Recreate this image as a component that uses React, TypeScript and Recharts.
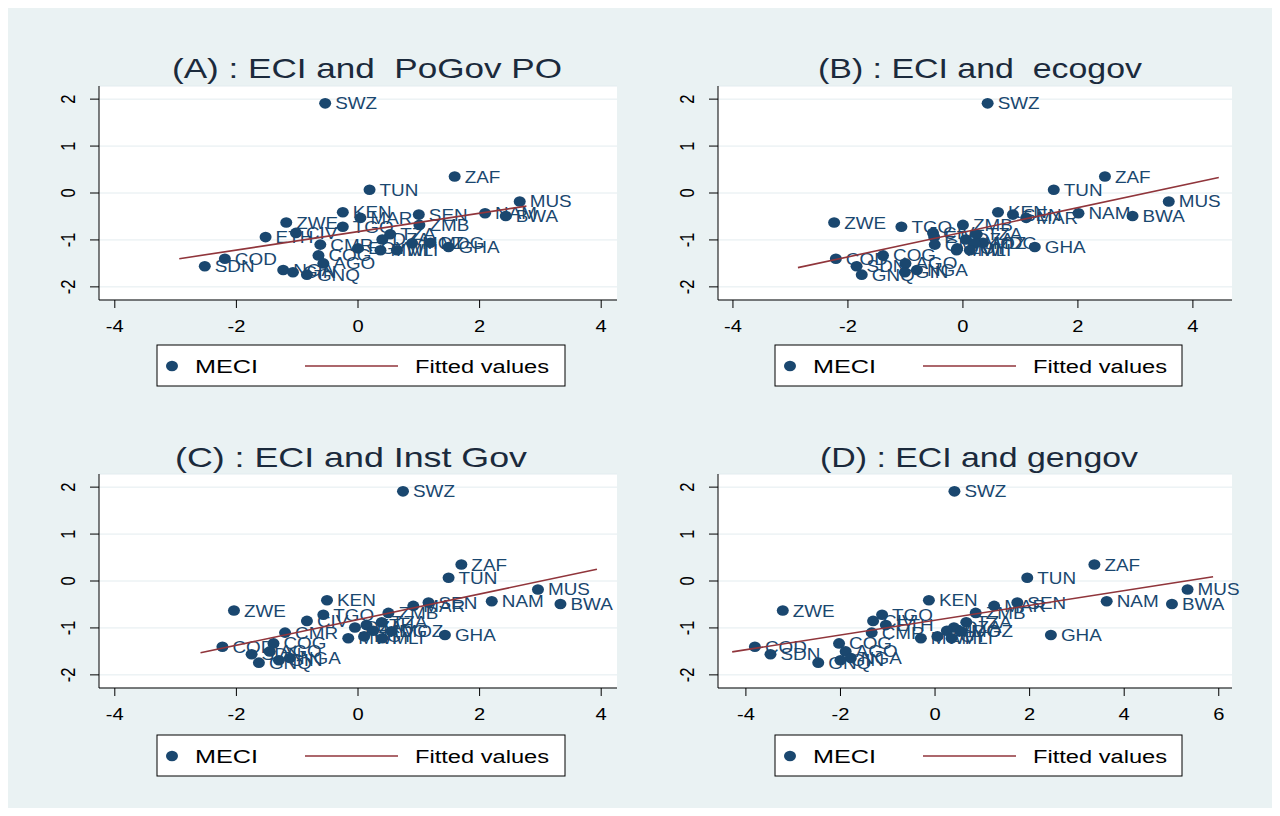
import React from 'react';
import { ScatterChart, Scatter, XAxis, YAxis, CartesianGrid } from 'recharts';

const countries = ['SWZ','ZAF','TUN','MUS','KEN','NAM','SEN','BWA','MAR','ZWE','ZMB','TGO','CIV','TZA','ETH','DZA','MDG','MOZ','CMR','GHA','EGY','MWI','MLI','COG','COD','AGO','SDN','NGA','GIN','GNQ'];
const meci = [1.91,0.35,0.07,-0.18,-0.41,-0.43,-0.46,-0.49,-0.53,-0.63,-0.68,-0.72,-0.85,-0.88,-0.94,-0.99,-1.06,-1.07,-1.10,-1.15,-1.18,-1.22,-1.22,-1.33,-1.40,-1.50,-1.56,-1.64,-1.69,-1.74];
const pogov = [-0.54,1.59,0.19,2.66,-0.25,2.09,1.00,2.43,0.04,-1.18,1.01,-0.25,-1.02,0.53,-1.52,0.40,1.19,0.89,-0.62,1.49,0.00,0.37,0.64,-0.65,-2.19,-0.57,-2.52,-1.23,-1.07,-0.84];
const ecogov = [0.43,2.47,1.58,3.58,0.61,2.01,0.87,2.95,1.10,-2.24,0.00,-1.07,-0.52,0.24,-0.50,0.05,0.35,0.20,-0.49,1.25,-0.10,-0.11,0.12,-1.39,-2.21,-1.00,-1.85,-0.80,-1.01,-1.76];
const instgov = [0.74,1.70,1.49,2.96,-0.51,2.20,1.16,3.33,0.91,-2.04,0.50,-0.57,-0.84,0.39,0.14,-0.05,0.25,0.55,-1.20,1.43,0.10,-0.16,0.40,-1.39,-2.23,-1.45,-1.75,-1.12,-1.30,-1.63];
const gengov = [0.41,3.37,1.95,5.34,-0.13,3.63,1.74,5.01,1.25,-3.22,0.86,-1.12,-1.31,0.66,-1.04,0.40,0.25,0.55,-1.34,2.45,0.05,-0.30,0.35,-2.03,-3.81,-1.89,-3.48,-1.78,-2.00,-2.47];

const fitPogovX = [-2.94, 2.77];
const fitPogovY = [-1.40, -0.28];
const fitEcogovX = [-2.87, 4.45];
const fitEcogovY = [-1.59, 0.33];
const fitInstgovX = [-2.59, 3.93];
const fitInstgovY = [-1.53, 0.25];
const fitGengovX = [-4.29, 5.88];
const fitGengovY = [-1.51, 0.09];

const xTicks = [-4, -2, 0, 2, 4];
const xTicksD = [-4, -2, 0, 2, 4, 6];
const yTicks = [-2, -1, 0, 1, 2];

const titles = ['(A) : ECI and  PoGov PO', '(B) : ECI and  ecogov', '(C) : ECI and Inst Gov', '(D) : ECI and gengov'];
const legendLabels = ['MECI', 'Fitted values'];

const NAVY = '#1a476f';
const MAROON = '#90353b';
const BG = '#eaf2f3';
const FONT = 'Liberation Sans, Arial, sans-serif';

function PointShape(props: any) {
  const { cx, cy, payload } = props;
  if (cx == null || cy == null) return <g />;
  return (
    <g>
      <ellipse cx={cx} cy={cy} rx={6} ry={5.3} fill={NAVY} />
      <text transform={`translate(${cx + 10},${cy + 6}) scale(1.18,1)`} fontSize={16} fill={NAVY} fontFamily={FONT}>
        {payload.name}
      </text>
    </g>
  );
}

function XTick(props: any) {
  const { x, y, payload } = props;
  return (
    <text transform={`translate(${x},${y + 24}) scale(1.22,1)`} textAnchor="middle" fontSize={16.5} fill="#000" fontFamily={FONT}>
      {payload.value}
    </text>
  );
}

function YTick(props: any) {
  const { x, y, payload } = props;
  return (
    <text transform={`translate(${x - 15},${y}) scale(1.22,1) rotate(-90)`} textAnchor="middle" fontSize={16.5} fill="#000" fontFamily={FONT}>
      {payload.value}
    </text>
  );
}

function NoShape() {
  return <g />;
}

function Panel(p: any) {
  const pts = countries.map((c, i) => ({ name: c, x: p.xs[i], y: meci[i] }));
  const fit = p.fitX.map((x: number, i: number) => ({ x, y: p.fitY[i] }));
  return (
    <div style={{ position: 'absolute', left: p.left, top: p.top, width: 640, height: 400 }}>
      <ScatterChart width={640} height={400} margin={p.margin}>
        <CartesianGrid vertical={false} stroke="#e3ecef" fill="#ffffff" fillOpacity={1} />
        <XAxis type="number" dataKey="x" domain={p.xDomain} ticks={p.xTicks} interval={0} height={40}
          tickSize={8} tickMargin={0} axisLine={{ stroke: '#000' }} tickLine={{ stroke: '#000' }} tick={<XTick />} />
        <YAxis type="number" dataKey="y" domain={[-2.28, 2.28]} ticks={yTicks} interval={0} width={50}
          tickSize={9} tickMargin={0} axisLine={{ stroke: '#000' }} tickLine={{ stroke: '#000' }} tick={<YTick />} />
        <Scatter data={pts} shape={PointShape} isAnimationActive={false} />
        <Scatter data={fit} line={{ stroke: MAROON, strokeWidth: 1.6 }} shape={NoShape} isAnimationActive={false} />
      </ScatterChart>
    </div>
  );
}

function Legend(p: any) {
  const cy = p.y + 21;
  return (
    <g>
      <rect x={p.x} y={p.y} width={p.w} height={41} fill="#fff" stroke="#000" strokeWidth={1} />
      <ellipse cx={p.x + 15} cy={cy} rx={6} ry={5.3} fill={NAVY} />
      <text x={p.x + 38} y={cy + 7} fontSize={18} fontFamily={FONT} fill="#000" textLength={63} lengthAdjust="spacingAndGlyphs">{legendLabels[0]}</text>
      <line x1={p.x + 148} x2={p.x + 241} y1={cy} y2={cy} stroke={MAROON} strokeWidth={1.6} />
      <text x={p.x + 258} y={cy + 7} fontSize={18} fontFamily={FONT} fill="#000" textLength={134} lengthAdjust="spacingAndGlyphs">{legendLabels[1]}</text>
    </g>
  );
}

function Title(p: any) {
  return (
    <text x={p.x} y={p.y} fontSize={28} fontFamily={FONT} fill="#1b2a3c" textLength={p.len} lengthAdjust="spacingAndGlyphs" style={{ whiteSpace: 'pre' }}>
      {p.text}
    </text>
  );
}

export default function App() {
  return (
    <div style={{ position: 'absolute', left: 0, top: 0, width: 1280, height: 816, background: '#fff' }}>
      <div style={{ position: 'absolute', left: 8, top: 8, width: 1264, height: 800, background: BG }} />
      <Panel left={0} top={0} margin={{ top: 86, right: 23, bottom: 60, left: 49 }} xs={pogov} xDomain={[-4.26, 4.26]} xTicks={xTicks} fitX={fitPogovX} fitY={fitPogovY} />
      <Panel left={640} top={0} margin={{ top: 86, right: 48, bottom: 60, left: 28 }} xs={ecogov} xDomain={[-4.26, 4.68]} xTicks={xTicks} fitX={fitEcogovX} fitY={fitEcogovY} />
      <Panel left={0} top={400} margin={{ top: 74, right: 23, bottom: 72, left: 49 }} xs={instgov} xDomain={[-4.26, 4.26]} xTicks={xTicks} fitX={fitInstgovX} fitY={fitInstgovY} />
      <Panel left={640} top={400} margin={{ top: 74, right: 48, bottom: 72, left: 28 }} xs={gengov} xDomain={[-4.59, 6.28]} xTicks={xTicksD} fitX={fitGengovX} fitY={fitGengovY} />
      <svg width={1280} height={816} style={{ position: 'absolute', left: 0, top: 0, pointerEvents: 'none' }}>
        <Title x={172} y={78} len={390} text={titles[0]} />
        <Title x={818} y={78} len={324} text={titles[1]} />
        <Title x={175} y={467} len={352} text={titles[2]} />
        <Title x={820} y={467} len={318} text={titles[3]} />
        <Legend x={157} y={345} w={408} />
        <Legend x={775} y={345} w={407} />
        <Legend x={157} y={735} w={408} />
        <Legend x={775} y={735} w={407} />
      </svg>
    </div>
  );
}
